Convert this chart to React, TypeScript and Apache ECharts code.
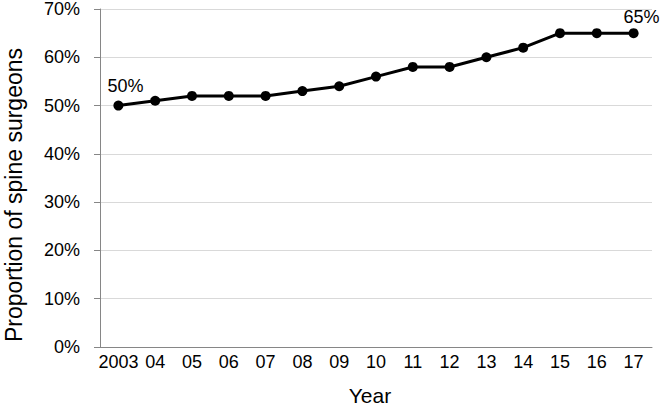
import React, { useEffect, useRef } from "react";
import * as echarts from "echarts";

const years = ["2003", "04", "05", "06", "07", "08", "09", "10", "11", "12", "13", "14", "15", "16", "17"];
const proportions = [50, 51, 52, 52, 52, 53, 54, 56, 58, 58, 60, 62, 65, 65, 65];
const yTicks = [0, 10, 20, 30, 40, 50, 60, 70];
const labelledIdx = [0, 14];
const xTitle = "Year";
const yTitle = "Proportion of spine surgeons";

export default function App() {
  const ref = useRef<HTMLDivElement>(null);
  useEffect(() => {
    if (!ref.current) return;
    const chart = echarts.init(ref.current, null, { renderer: "svg" });
    const font = "'Liberation Sans', Arial, sans-serif";
    chart.setOption({
      animation: false,
      grid: { left: 100, right: 9, top: 8, bottom: 60 },
      graphic: [
        {
          type: "text",
          x: 370,
          y: 395,
          style: { text: xTitle, font: `21px ${font}`, fill: "#000", align: "center", verticalAlign: "middle" },
        },
        {
          type: "text",
          x: 14,
          y: 195,
          rotation: Math.PI / 2,
          style: { text: yTitle, font: `23px ${font}`, fill: "#000", align: "center", verticalAlign: "middle" },
        },
      ],
      xAxis: {
        type: "category",
        data: years,
        boundaryGap: true,
        axisLine: { lineStyle: { color: "#868686", width: 1 } },
        axisTick: { alignWithLabel: true, length: 4, lineStyle: { color: "#868686" } },
        axisLabel: { interval: 0, fontSize: 18, color: "#000", fontFamily: font, margin: 6 },
      },
      yAxis: {
        type: "value",
        min: yTicks[0],
        max: yTicks[yTicks.length - 1],
        interval: 10,
        axisLine: { show: true, lineStyle: { color: "#868686", width: 1 } },
        axisTick: { show: true, length: 6, lineStyle: { color: "#868686" } },
        axisLabel: { fontSize: 18, color: "#000", fontFamily: font, margin: 20, formatter: "{value}%" },
        splitLine: { lineStyle: { color: "#d9d9d9", width: 1 } },
      },
      series: [
        {
          type: "line",
          data: proportions.map((v, i) =>
            labelledIdx.includes(i)
              ? {
                  value: v,
                  label: {
                    show: true,
                    position: "top",
                    offset: i === 0 ? [7, -1] : [8, 3],
                    formatter: "{c}%",
                    fontSize: 18,
                    color: "#000",
                    fontFamily: font,
                  },
                }
              : v
          ),
          symbol: "circle",
          symbolSize: 10,
          lineStyle: { color: "#000", width: 3 },
          itemStyle: { color: "#000" },
          label: { show: false },
        },
      ],
    });
    return () => chart.dispose();
  }, []);
  return <div ref={ref} style={{ width: 661, height: 407, position: "absolute", left: 0, top: 0 }} />;
}
